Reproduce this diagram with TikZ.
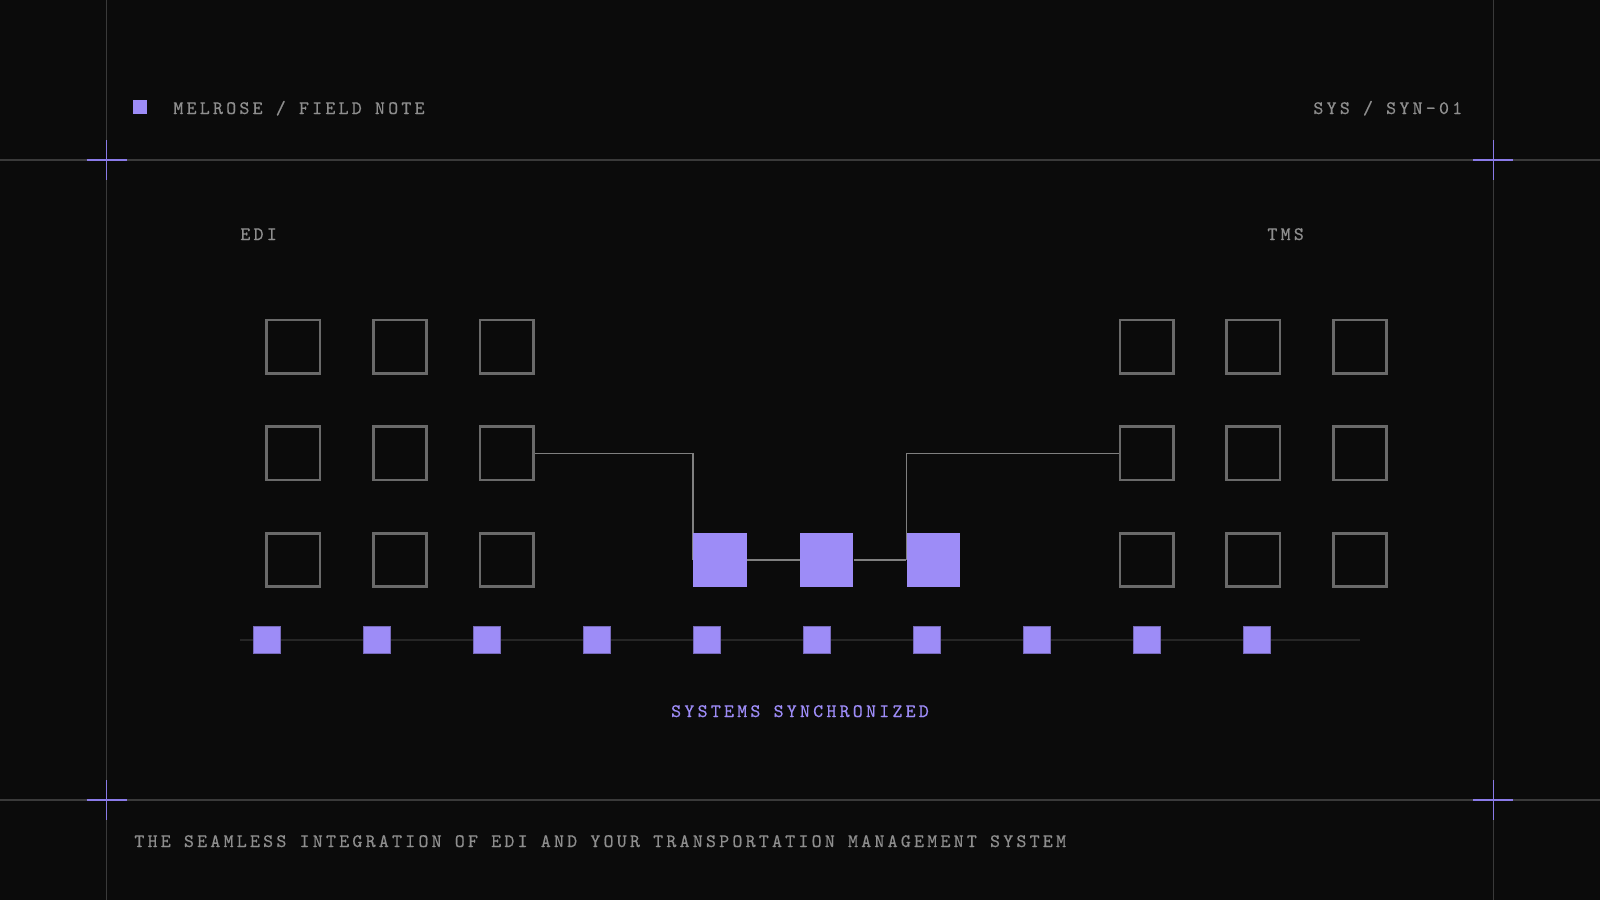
\documentclass[tikz,border=0pt]{standalone}
\usepackage{fontspec}
\usepackage{tikz}
\usetikzlibrary{backgrounds}
\newfontfamily\notefont{lmmono10-regular}[Extension=.otf,LetterSpace=17,FakeBold=0.5]
\definecolor{bgdark}{HTML}{0B0B0B}
\definecolor{framegray}{HTML}{3A3A3A}
\definecolor{boxgray}{HTML}{6A6A6A}
\definecolor{linkgray}{HTML}{808080}
\definecolor{railgray}{HTML}{262626}
\definecolor{notegray}{HTML}{8E8E8E}
\definecolor{lilac}{HTML}{9D8CF7}
\definecolor{crosslilac}{HTML}{8A7BE8}
\tikzstyle{slot}=[rectangle,draw=boxgray,line width=1.3pt,minimum size=26.67pt,inner sep=0pt]
\tikzstyle{hub}=[rectangle,fill=lilac,minimum size=26.67pt,inner sep=0pt]
\tikzstyle{pulse}=[rectangle,fill=lilac,draw=lilac!75!black,line width=0.4pt,minimum size=13.33pt,inner sep=0pt]
\tikzstyle{frameline}=[draw=framegray,line width=0.65pt]
\tikzstyle{crossmark}=[draw=crosslilac,line width=0.8pt]
\tikzstyle{link}=[draw=linkgray,line width=0.75pt]
\tikzstyle{rail}=[draw=railgray,line width=1pt]
\tikzstyle{note}=[inner sep=0pt,text=notegray,font=\notefont\fontsize{9.5}{11}\selectfont]

\begin{document}
\begin{tikzpicture}[x=0.5pt,y=-0.5pt]

	\def\p{106.667};
	\def\xe{293.333};
	\def\xt{1146.667};
	\def\ye{346.667};

\useasboundingbox (0,0) rectangle (1600,900);

% Header
\node[fill=lilac,minimum size=7pt,inner sep=0pt] (mark) at (140,106.5) {};
\node[note,anchor=base west] (title) at (173,114) {MELROSE / FIELD NOTE};
\node[note,anchor=base west] (code) at (1313,114) {SYS / SYN-01};

% Side labels
\node[note,anchor=base west] (edi) at (240,240) {EDI};
\node[note,anchor=base west] (tms) at (1267,240) {TMS};

%grids
    \foreach \r in {1,2,3}
     \foreach \c in {1,2,3} {
        \node[slot] (edi-\r\c) at ({\xe+(\c-1)*\p}, {\ye+(\r-1)*\p}) {};
        \node[slot] (tms-\r\c) at ({\xt+(\c-1)*\p}, {\ye+(\r-1)*\p}) {};
     }

%hubs
    \foreach \name/\x in {sync-1/720, sync-2/826.667, sync-3/933.333}
        \node[hub] (\name) at (\x,560) {};

%pulse row
    \coordinate (rail-l) at (240,640);
    \coordinate (rail-r) at (1360,640);
    \foreach \i in {0,...,9}
        \node[pulse] (pulse-\i) at ({266.667+110*\i},640) {};

\node[note,text=lilac,anchor=base] (status) at (800,717) {SYSTEMS SYNCHRONIZED};

% Footer
\node[note,anchor=base west] (footer) at (134,847) {THE SEAMLESS INTEGRATION OF EDI AND YOUR TRANSPORTATION MANAGEMENT SYSTEM};

\begin{scope}[on background layer]
  \fill[bgdark] (0,0) rectangle (1600,900);
  % frame
  \draw[frameline] (106.667,0) -- (106.667,900);
  \draw[frameline] (1493.333,0) -- (1493.333,900);
  \draw[frameline] (0,160) -- (1600,160);
  \draw[frameline] (0,800) -- (1600,800);
  \foreach \cx/\cy in {106.667/160, 1493.333/160, 106.667/800, 1493.333/800} {
    \draw[crossmark] (\cx-20,\cy) -- (\cx+20,\cy);
    \draw[crossmark] (\cx,\cy-20) -- (\cx,\cy+20);
  }
  % links
  \path[link] (edi-23.east) -| (sync-1.west);
  \path[link] (tms-21.west) -| (sync-3.west);
  \path[link] (sync-1.east) -- (sync-2.west);
  \path[link] (sync-2.east) -- (sync-3.west);
  \path[rail] (rail-l) -- (rail-r);
\end{scope}

\end{tikzpicture}
\end{document}
